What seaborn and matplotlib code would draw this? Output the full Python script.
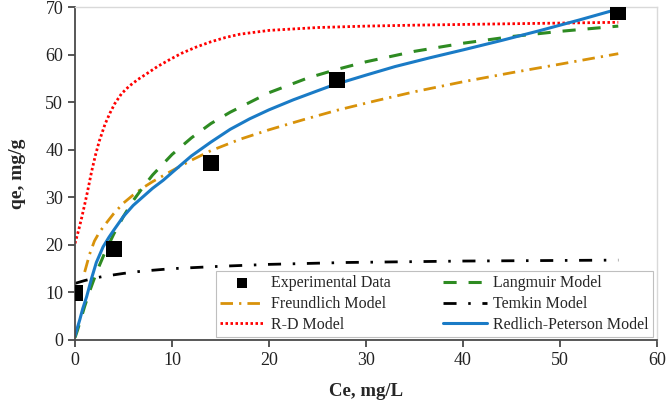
import matplotlib
matplotlib.use("Agg")
import matplotlib.pyplot as plt
import seaborn as sns

# experimental points
ce_exp = [0, 4, 14, 27, 56]
qe_exp = [9.9, 19.1, 37.2, 54.6, 68.9]

# model curves
ce_lang = [0, 0.25, 0.5, 1, 1.5, 2, 2.5, 3, 4, 5, 6, 7, 8, 10, 12, 14, 16, 20, 24, 27, 30, 35, 40, 45, 50, 56]
qe_lang = [0.5, 2.0, 3.7, 7.1, 10.2, 13.0, 15.6, 18.0, 22.3, 26.0, 29.3, 32.1, 34.7, 39.0, 42.5, 45.5, 47.9, 52.0, 55.1, 56.9, 58.5, 60.7, 62.4, 63.8, 64.9, 66.0]

ce_freu = [1.0, 1.5, 2, 2.5, 3, 4, 5, 6, 7, 8, 10, 12, 14, 17, 20, 23.5, 27, 31, 35, 40, 45, 50, 56]
qe_freu = [14.3, 18.0, 20.8, 22.6, 24.0, 26.6, 28.8, 30.5, 32.0, 33.3, 35.6, 37.8, 39.8, 42.2, 44.2, 46.3, 48.3, 50.3, 52.2, 54.3, 56.2, 58.0, 60.2]

ce_temk = [0, 1, 2, 3, 5, 7, 10, 15, 20, 28, 40, 56]
qe_temk = [11.9, 12.5, 13.0, 13.4, 14.0, 14.5, 15.0, 15.5, 15.9, 16.3, 16.6, 16.8]

ce_rd = [0, 0.2, 0.4, 0.7, 1.0, 1.3, 1.7, 2.1, 2.5, 3.1, 3.6, 4.1, 4.8, 5.6, 6.5, 7.4, 8.5, 9.8, 11, 12.5, 14, 15.5, 17, 20, 25, 30, 35, 45, 56]
qe_rd = [20.3, 21.8, 23.3, 25.8, 28.5, 31.3, 35.3, 38.8, 41.8, 45.4, 47.7, 49.7, 51.8, 53.4, 54.8, 56.0, 57.5, 59.0, 60.3, 61.6, 62.7, 63.6, 64.3, 65.1, 65.7, 66.0, 66.2, 66.5, 66.8]

ce_rp = [0, 0.25, 0.5, 0.8, 1.2, 1.7, 2.2, 2.9, 3.5, 4, 5, 6, 7, 8, 9.1, 10, 12, 14, 16, 18, 20, 22.5, 25, 26.6, 30, 33, 36.5, 40, 44, 48, 52, 56]
qe_rp = [0.8, 2.6, 4.3, 6.6, 9.1, 12.9, 16.3, 19.6, 21.6, 23.1, 26.0, 28.3, 30.1, 31.9, 33.6, 35.2, 38.7, 41.6, 44.3, 46.5, 48.4, 50.5, 52.4, 53.6, 55.7, 57.5, 59.3, 61.0, 63.0, 65.1, 67.3, 69.6]

sns.set_style("white")
plt.rcParams["font.family"] = ["Liberation Serif", "DejaVu Serif"]

fig = plt.figure(figsize=(6.66, 4.05), dpi=100)
ax = fig.add_axes([0.1126, 0.1605, 0.874, 0.822])

sns.lineplot(x=ce_freu, y=qe_freu, ax=ax, color="#D8920A", lw=2.0,
             linestyle=(0, (4.5, 2.2, 0.8, 2.2)), label="Freundlich Model")
sns.lineplot(x=ce_rd, y=qe_rd, ax=ax, color="#FF0000", lw=2.0,
             linestyle=(0, (0.9, 0.9)), label="R-D Model")
sns.lineplot(x=ce_lang, y=qe_lang, ax=ax, color="#2E8B22", lw=2.2,
             linestyle=(0, (4.3, 3.9)), label="Langmuir Model")
sns.lineplot(x=ce_temk, y=qe_temk, ax=ax, color="black", lw=2.0,
             linestyle=(0, (4.7, 4.2, 0.9, 4.2)), label="Temkin Model")
sns.lineplot(x=ce_rp, y=qe_rp, ax=ax, color="#1A7BC6", lw=2.2,
             label="Redlich-Peterson Model")
sns.scatterplot(x=ce_exp, y=qe_exp, ax=ax, marker="s", s=120, color="black",
                edgecolor="black", linewidth=0, zorder=5, label="Experimental Data")

ax.set_xlim(0, 60)
ax.set_ylim(0, 70)
ax.set_xticks(range(0, 61, 10))
ax.set_yticks(range(0, 71, 10))
ax.tick_params(axis="both", direction="out", length=5, width=1.2, labelsize=13,
               colors="#3a3a3a", labelcolor="#222222", bottom=True, left=True)

for s in ["left", "bottom"]:
    ax.spines[s].set_color("#4a4a4a")
    ax.spines[s].set_linewidth(1.3)
for s in ["top", "right"]:
    ax.spines[s].set_color("#d9d9d9")
    ax.spines[s].set_linewidth(1.0)

ax.set_xlabel("Ce, mg/L", fontsize=13.5, fontweight="bold", labelpad=10)
ax.set_ylabel("qe, mg/g", fontsize=14, fontweight="bold", labelpad=14)

handles, labels = ax.get_legend_handles_labels()
order = ["Experimental Data", "Freundlich Model", "R-D Model",
         "Langmuir Model", "Temkin Model", "Redlich-Peterson Model"]
hmap = dict(zip(labels, handles))
leg = ax.legend([hmap[k] for k in order], order, ncol=2, loc="lower right",
                bbox_to_anchor=(0.993, 0.009), borderaxespad=0, fontsize=11.5,
                frameon=True, fancybox=False, edgecolor="#bfbfbf", framealpha=1,
                handlelength=2.75, handletextpad=0.4, labelspacing=0.3,
                columnspacing=3.3, borderpad=0.25, markerscale=0.6)
leg.get_frame().set_linewidth(0.8)

fig.savefig("out.png", dpi=100)
